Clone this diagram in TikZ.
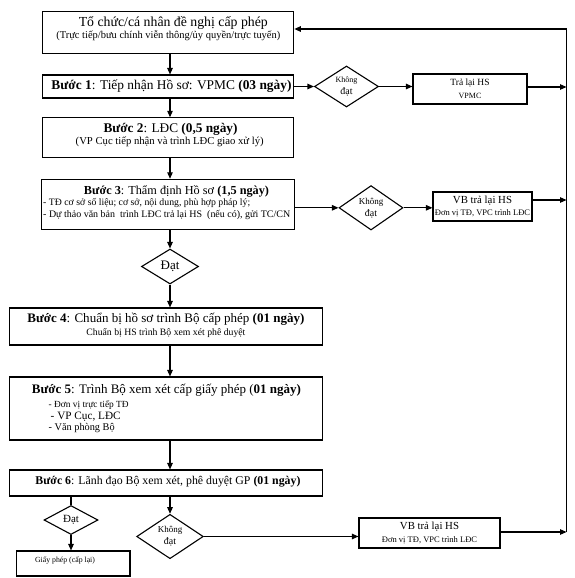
\documentclass[tikz,border=0pt]{standalone}
\usepackage{fontspec}
\usepackage{graphicx}
\setmainfont{Liberation Serif}
\usetikzlibrary{arrows.meta,shapes.geometric,calc}
\tikzset{
  box/.style={draw, line width=1.1pt, inner sep=1pt, align=center},
  dia/.style={draw, diamond, line width=1.1pt, inner sep=0pt, align=center},
  txt/.style={inner sep=0pt, align=center},
  txl/.style={inner sep=0pt, anchor=west},
  arr/.style={-{Triangle[length=6.5pt,width=5.5pt]}, line width=1.1pt},
  ln/.style={line width=1.1pt},
}
\newcommand{\fsz}[1]{\fontsize{#1}{#1}\selectfont}
\newcommand{\fw}[2]{\resizebox{#1pt}{!}{\fsz{12}#2}}
\begin{document}
\begin{tikzpicture}[x=1pt,y=-1pt]
\useasboundingbox (0,0) rectangle (575,578);
% ---- main boxes
\node[box, minimum width=251pt, minimum height=42pt] (top) at (168.3,32.2) {};
\node[txt] (t1) at (173.3,22.7) {\fw{189}{Tổ chức/cá nhân đề nghị cấp phép}};
\node[txt] (t2) at (168.3,35.5) {\fw{224}{(Trực tiếp/bưu chính viễn thông/ủy quyền/trực tuyến)}};

\node[box, minimum width=251pt, minimum height=23pt] (b1) at (168.3,86.5) {};
\node[txt] (b1t) at (171.5,86.5) {\fw{240}{\textbf{Bước 1}: Tiếp nhận Hồ sơ: VPMC \textbf{(03 ngày)}}};

\node[box, minimum width=251pt, minimum height=40pt] (b2) at (168.3,137.8) {};
\node[txt] (b2t) at (170.5,129) {\fw{134}{\textbf{Bước 2}: LĐC \textbf{(0,5 ngày)}}};
\node[txt] (b2s) at (169.7,142) {\fw{188}{(VP Cục tiếp nhận và trình LĐC giao xử lý)}};

\node[box, minimum width=253pt, minimum height=50pt] (b3) at (168.3,204.3) {};
\node[txt] (b3t) at (176.5,191.7) {\fw{185}{\textbf{Bước 3}: Thẩm định Hồ sơ \textbf{(1,5 ngày)}}};
\node[txl] (b3a) at (43,203.5) {\fw{207}{- TĐ cơ sở số liệu; cơ sở, nội dung, phù hợp pháp lý;}};
\node[txl] (b3b) at (43,215.3) {\fw{247}{- Dự thảo văn bản\ \ trình LĐC trả lại HS\ \ (nếu có), gửi TC/CN}};

\node[dia, minimum width=57pt, minimum height=35pt] (dat) at (170,266.5) {\fsz{13}Đạt};

\node[box, minimum width=313.7pt, minimum height=37pt] (b4) at (165.9,326.5) {};
\node[txt] (b4t) at (165.9,319) {\fw{277}{\textbf{Bước 4}: Chuẩn bị hồ sơ trình Bộ cấp phép \textbf{(01 ngày)}}};
\node[txt] (b4s) at (165.9,333) {\fw{159}{Chuẩn bị HS trình Bộ xem xét phê duyệt}};

\node[box, minimum width=313.7pt, minimum height=63pt] (b5) at (165.9,408.5) {};
\node[txt] (b5t) at (166.5,390) {\fw{269}{\textbf{Bước 5}: Trình Bộ xem xét cấp giấy phép (\textbf{01 ngày)}}};
\node[txl] (b5a) at (48.5,405) {\fw{80}{- Đơn vị trực tiếp TĐ}};
\node[txl] (b5b) at (50.5,416.7) {\fw{70}{- VP Cục, LĐC}};
\node[txl] (b5c) at (48.5,428.3) {\fw{66}{- Văn phòng Bộ}};

\node[box, minimum width=313.7pt, minimum height=26pt] (b6) at (165.9,483) {};
\node[txt] (b6t) at (168,482) {\fw{265}{\textbf{Bước 6}: Lãnh đạo Bộ xem xét, phê duyệt GP \textbf{(01 ngày)}}};

% ---- side branches
\node[dia, minimum width=64pt, minimum height=36pt] (d1) at (346.5,86.5)
  {\fontsize{8}{9}\selectfont Không\\đạt};
\node[box, minimum width=114pt, minimum height=30pt] (r1) at (470,89)
  {\fsz{9.5}Trả lại HS\\[1.5pt]\fsz{8}VPMC};
\node[dia, minimum width=64pt, minimum height=38pt] (d2) at (371,207.8)
  {\fontsize{9}{8.8}\selectfont Không\\đạt};
\node[box, minimum width=99pt, minimum height=29pt] (vb2) at (482.5,206.5)
  {\fsz{10.8}VB trả lại HS\\[0.5pt]\fsz{8.5}Đơn vị TĐ, VPC trình LĐC};
\node[dia, minimum width=54pt, minimum height=29pt] (d3) at (71,520) {\fsz{11}Đạt};
\node[box, minimum width=113.3pt, minimum height=25pt] (gp) at (73.3,563.5) {};
\node[txt] (gpt) at (65,560.5) {\fsz{7.8}Giấy phép (cấp lại)};
\node[dia, minimum width=66.7pt, minimum height=39pt] (d4) at (170,536.5)
  {\fontsize{9}{9.3}\selectfont Không\\đạt};
\node[box, minimum width=141pt, minimum height=30pt] (vb3) at (429.5,533)
  {\fsz{10.8}VB trả lại HS\\[1pt]\fsz{8.5}Đơn vị TĐ, VPC trình LĐC};

\coordinate (rt) at (566.5,29);
\coordinate (rb) at (566.5,532);

% ---- vertical flow
\draw[arr] (top.south -| dat) -- (b1.north -| dat);
\draw[arr] (b1.south -| dat) -- (b2.north -| dat);
\draw[arr] (b2.south -| dat) -- (b3.north -| dat);
\draw[arr] (b3.south -| dat) -- (dat.north);
\draw[arr] (dat.south) -- (b4.north -| dat);
\draw[arr] (b4.south -| dat) -- (b5.north -| dat);
\draw[arr] (b5.south -| dat) -- (b6.north -| dat);
\draw[ln] (b6.south -| d3) -- (d3.north);
\draw[arr] (d3.south) -- (gp.north -| d3);
\draw[arr] (b6.south -| d4) -- (d4.north);
% ---- side flows
\draw[arr] (b1.east |- d1) -- (d1.west);
\draw[arr] (d1.east) -- (d1.east -| r1.west);
\draw[arr] ($(r1.east)+(0,-2)$) -- ($(r1.east -| rt)+(0,-2)$);
\draw[arr] (b3.east |- d2) -- (d2.west);
\draw[arr] (d2.east) -- (d2.east -| vb2.west);
\draw[arr] ($(vb2.east)+(0,-6.5)$) -- ($(vb2.east -| rt)+(0,-6.5)$);
\draw[arr] (d4.east) -- (d4.east -| vb3.west);
\draw[arr] ($(vb3.east)+(0,-1)$) -- ($(vb3.east -| rb)+(0,-1)$);
\draw[ln] (rb) -- (rt);
\draw[arr] (rt) -- (rt -| top.east);
\end{tikzpicture}
\end{document}
